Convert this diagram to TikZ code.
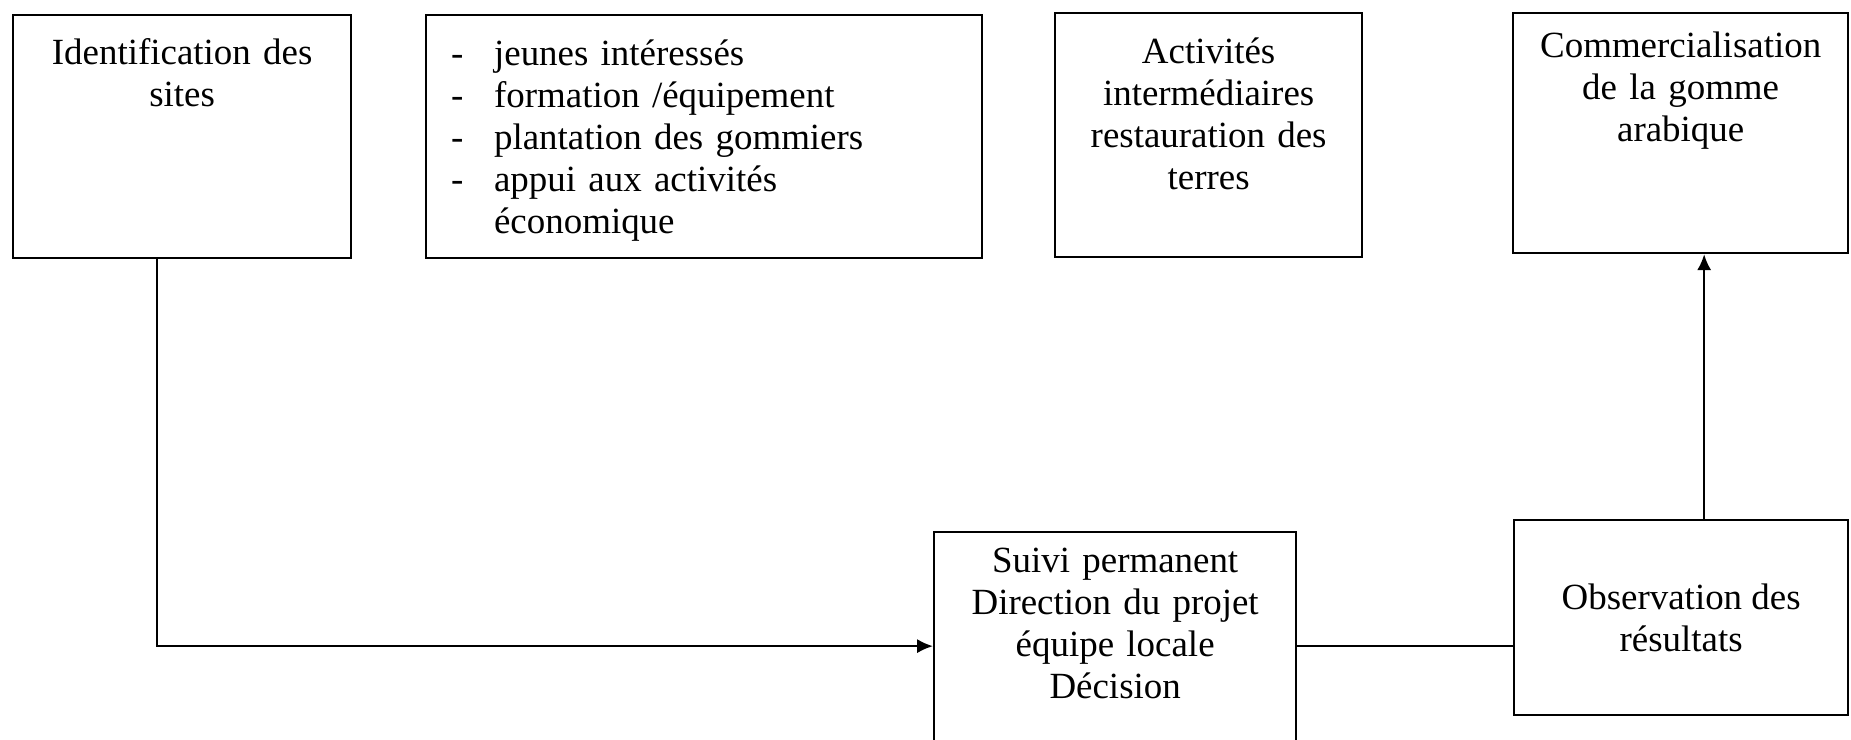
\documentclass[tikz,border=0pt]{standalone}
\usepackage{fontspec}
\setmainfont{Liberation Serif}
\usetikzlibrary{arrows.meta}

\begin{document}
\begin{tikzpicture}
    [
        x=0.01cm, y=-0.01cm,
        box/.style={draw, line width=0.6pt, anchor=north west, inner xsep=0pt, inner ysep=0pt,
            align=center, font=\fontsize{10.5}{12}\selectfont},
        edge/.style={-{Latex[length=4.5pt,width=4pt]}, line width=0.6pt},
    ]

    \useasboundingbox (0,0) rectangle (1851,739);

    % top row
    \node (sites)  at (12,14)   [box, text width=3.38cm, text height=0.49cm, text depth=1.94cm] {Identification des\\sites};
    \node (jeunes) at (425,14)  [box, align=left, inner xsep=0.25cm, text width=5.06cm, text height=0.50cm, text depth=1.93cm]
        {\makebox[0.43cm][l]{-}jeunes intéressés\\
         \makebox[0.43cm][l]{-}formation /équipement\\
         \makebox[0.43cm][l]{-}plantation des gommiers\\
         \makebox[0.43cm][l]{-}appui aux activités\\
         \hspace*{0.43cm}économique};
    \node (activ)  at (1054,12) [box, text width=3.07cm, text height=0.50cm, text depth=1.94cm] {Activités\\intermédiaires\\restauration des\\terres};
    \node (comm)   at (1512,12) [box, text width=3.35cm, text height=0.44cm, text depth=1.96cm] {Commercialisation\\de la gomme\\arabique};

    % bottom row
    \node (suivi)  at (933,531)  [box, text width=3.62cm, text height=0.40cm, text depth=1.88cm] {Suivi permanent\\Direction du projet\\équipe locale\\Décision};
    \node (obs)    at (1513,519) [box, minimum width=3.34cm, minimum height=1.95cm] {Observation des\\résultats};

    \draw [edge] ([xshift=-0.25cm]sites.south) |- (suivi.west);
    \draw [line width=0.6pt] (suivi.east) -- (suivi.east -| obs.west);
    \draw [edge] ([xshift=0.23cm]obs.north) -- ([xshift=0.23cm]obs.north |- comm.south);

\end{tikzpicture}
\end{document}
